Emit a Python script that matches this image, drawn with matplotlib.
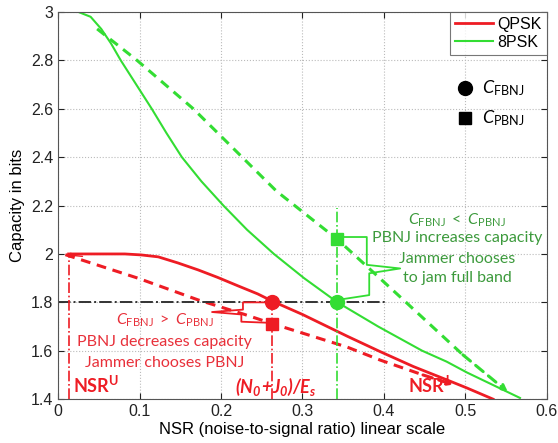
import matplotlib
matplotlib.use("Agg")
import matplotlib.pyplot as plt

plt.rcParams['font.family'] = ['Liberation Sans', 'DejaVu Sans']
plt.rcParams['mathtext.fontset'] = 'custom'
plt.rcParams['mathtext.rm'] = 'Lato'
plt.rcParams['mathtext.it'] = 'Lato:italic'
plt.rcParams['mathtext.bf'] = 'Lato:bold'
plt.rcParams['mathtext.bfit'] = 'Lato:bold:italic'

# curves
qpsk_x = [0.013, 0.082, 0.102, 0.123, 0.147, 0.172, 0.196, 0.221, 0.245, 0.263,
          0.300, 0.355, 0.395, 0.436, 0.477, 0.502, 0.534]
qpsk_y = [2.0, 2.0, 1.996, 1.988, 1.963, 1.934, 1.903, 1.868, 1.835, 1.805,
          1.75, 1.66, 1.597, 1.535, 1.48, 1.446, 1.40]
qpsk_pb_x = [0.009, 0.098, 0.172, 0.229, 0.263, 0.355, 0.395, 0.448, 0.485]
qpsk_pb_y = [1.997, 1.90, 1.81, 1.75, 1.712, 1.615, 1.562, 1.50, 1.46]

psk8_x = [0.009, 0.025, 0.040, 0.053, 0.065, 0.077, 0.096, 0.115, 0.133, 0.152,
          0.176, 0.203, 0.232, 0.265, 0.302, 0.343, 0.393, 0.447, 0.477, 0.502, 0.567]
psk8_y = [3.0, 3.0, 2.98, 2.93, 2.87, 2.80, 2.70, 2.60, 2.50, 2.40,
          2.30, 2.20, 2.10, 2.00, 1.90, 1.80, 1.70, 1.60, 1.555, 1.51, 1.405]
psk8_pb_x = [0.048, 0.097, 0.166, 0.268, 0.343, 0.424, 0.497, 0.552]
psk8_pb_y = [2.93, 2.80, 2.60, 2.26, 2.06, 1.81, 1.583, 1.43]

nsr_u = 0.013
nsr_qpsk = 0.263
nsr_8psk = 0.343
c_fbnj = 1.8
c_pbnj_qpsk = 1.71
c_pbnj_8psk = 2.06

red = '#ee1c24'
green = '#33dd33'
red_txt = '#e8303a'
green_txt = '#3c9a3c'

fig = plt.figure(figsize=(5.58, 4.43), dpi=100)
ax = fig.add_axes([0.104, 0.099, 0.876, 0.874])

ax.plot(qpsk_x, qpsk_y, color=red, lw=2, label='QPSK')
ax.plot(psk8_x, psk8_y, color=green, lw=1.5, label='8PSK')
ax.plot(qpsk_pb_x[:-1], qpsk_pb_y[:-1], color=red, lw=2.2, dashes=(3.2, 2.2))
ax.plot(psk8_pb_x[:-1], psk8_pb_y[:-1], color=green, lw=2.2, dashes=(3.2, 2.2))

# last segment of each dashed curve ends in a small arrow head
for xs, ys, c in [(qpsk_pb_x, qpsk_pb_y, red), (psk8_pb_x, psk8_pb_y, green)]:
    ax.annotate('', xy=(xs[-1], ys[-1]), xytext=(xs[-2], ys[-2]),
                arrowprops=dict(arrowstyle='-|>', color=c, lw=2.2, ls=(0, (3.2, 2.2)),
                                mutation_scale=9, shrinkA=0, shrinkB=0))
ax.annotate('', xy=(qpsk_pb_x[0], qpsk_pb_y[0]), xytext=(0.03, 1.99),
            arrowprops=dict(arrowstyle='-|>', color=red, lw=1, mutation_scale=7,
                            shrinkA=0, shrinkB=0))

# guide lines
ax.plot([0, 0.401], [c_fbnj, c_fbnj], color='#333333', lw=1.4, ls='-.')
ax.plot([nsr_u, nsr_u], [1.4, 2.0], color=red, lw=1.2, ls='-.')
ax.plot([nsr_qpsk, nsr_qpsk], [1.4, 1.84], color=red, lw=1.2, ls='-.')
ax.plot([nsr_8psk, nsr_8psk], [1.4, 2.19], color=green, lw=1.2, ls='-.')

# markers
ax.plot(nsr_qpsk, c_fbnj, 'o', color=red, ms=10)
ax.plot(nsr_qpsk, c_pbnj_qpsk, 's', color=red, ms=9)
ax.plot(nsr_8psk, c_fbnj, 'o', color=green, ms=10)
ax.plot(nsr_8psk, c_pbnj_8psk, 's', color=green, ms=9)

# braces
ax.plot([0.343, 0.379, 0.379, 0.42, 0.382, 0.382, 0.343],
        [2.07, 2.07, 1.955, 1.94, 1.92, 1.83, 1.81], color=green, lw=1.3)
ax.plot([0.263, 0.227, 0.227, 0.189, 0.225, 0.225, 0.263],
        [1.80, 1.80, 1.77, 1.76, 1.75, 1.72, 1.715], color=red, lw=1.3)

# marker key
ax.plot(0.499, 2.686, 'o', color='black', ms=10)
ax.plot(0.499, 2.562, 's', color='black', ms=9)
ax.text(0.52, 2.686, r'$\mathit{C}_{\mathrm{FBNJ}}$', fontsize=13, va='center')
ax.text(0.52, 2.562, r'$\mathit{C}_{\mathrm{PBNJ}}$', fontsize=13, va='center')

# annotations
ax.text(0.131, 1.727, r'$\mathit{C}_{\mathrm{FBNJ}}\ \mathrm{>}\ \mathit{C}_{\mathrm{PBNJ}}$',
        color=red_txt, fontsize=11.5, ha='center', va='center')
ax.text(0.131, 1.636, 'PBNJ decreases capacity', color=red_txt, fontsize=11.5,
        ha='center', va='center', family='Lato')
ax.text(0.131, 1.55, 'Jammer chooses PBNJ', color=red_txt, fontsize=11.5,
        ha='center', va='center', family='Lato')

ax.text(0.49, 2.14, r'$\mathit{C}_{\mathrm{FBNJ}}\ \mathrm{<}\ \mathit{C}_{\mathrm{PBNJ}}$',
        color=green_txt, fontsize=11.5, ha='center', va='center')
for yy, s in zip([2.066, 1.98, 1.90],
                 ['PBNJ increases capacity', 'Jammer chooses', 'to jam full band']):
    ax.text(0.49, yy, s, color=green_txt, fontsize=11.5, ha='center', va='center',
            family='Lato')

ax.text(0.018, 1.425, r'$\mathbf{NSR^U}$', color=red, fontsize=13, va='baseline')
ax.text(0.43, 1.425, r'$\mathbf{NSR^J}$', color=red, fontsize=13, va='baseline')
ax.text(0.217, 1.425, r'$\mathbfit{(N_0\!+\!J_0)/E_s}$', color=red, fontsize=13, va='baseline')

ax.set_xlim(0, 0.6)
ax.set_ylim(1.4, 3.0)
ax.set_xticks([0, 0.1, 0.2, 0.3, 0.4, 0.5, 0.6])
ax.set_xticklabels(['0', '0.1', '0.2', '0.3', '0.4', '0.5', '0.6'])
ax.set_yticks([1.4, 1.6, 1.8, 2.0, 2.2, 2.4, 2.6, 2.8, 3.0])
ax.set_yticklabels(['1.4', '1.6', '1.8', '2', '2.2', '2.4', '2.6', '2.8', '3'])
ax.tick_params(direction='in', top=True, right=True, labelsize=11.5, colors='#222222', length=4)
ax.grid(True, ls=':', color='#bbbbbb', lw=0.8)
for sp in ax.spines.values():
    sp.set_color('#555555')
ax.set_xlabel('NSR (noise-to-signal ratio) linear scale', fontsize=12, labelpad=2)
ax.set_ylabel('Capacity in bits', fontsize=12, labelpad=4)

leg = ax.legend(loc='upper right', fontsize=11.5, frameon=True, fancybox=False,
                handlelength=2.4, borderaxespad=0, handletextpad=0.3, borderpad=0.3,
                labelspacing=0.2)
leg.get_frame().set_edgecolor('#555555')
leg.get_frame().set_linewidth(0.8)

fig.savefig('out.png', dpi=100)
